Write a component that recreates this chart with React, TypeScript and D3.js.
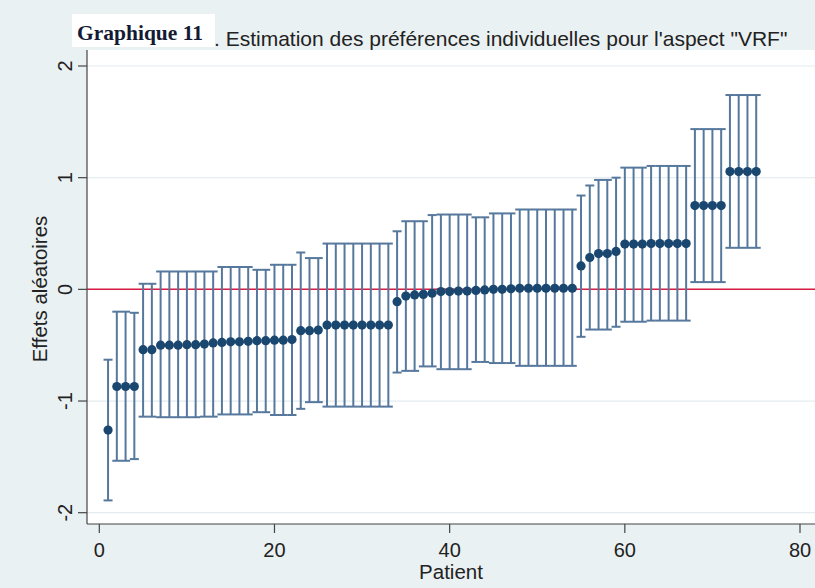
import React from "react";
import * as d3 from "d3";

const patients = d3.range(1, 76);
const estimates = [
  -1.26, -0.87, -0.87, -0.87, -0.54, -0.54, -0.5, -0.5, -0.5, -0.495,
  -0.495, -0.49, -0.48, -0.475, -0.47, -0.47, -0.465, -0.46, -0.46, -0.455,
  -0.455, -0.45, -0.37, -0.37, -0.365, -0.32, -0.32, -0.32, -0.32, -0.32,
  -0.32, -0.32, -0.32, -0.11, -0.06, -0.05, -0.045, -0.035, -0.02, -0.02,
  -0.015, -0.015, -0.01, -0.005, 0.0, 0.0, 0.005, 0.01, 0.01, 0.01,
  0.01, 0.01, 0.01, 0.01, 0.21, 0.285, 0.32, 0.32, 0.34, 0.405,
  0.405, 0.405, 0.41, 0.41, 0.41, 0.41, 0.41, 0.75, 0.75, 0.75,
  0.75, 1.055, 1.055, 1.055, 1.055,
];
const lower = [
  -1.89, -1.535, -1.535, -1.52, -1.14, -1.14, -1.145, -1.145, -1.145, -1.145,
  -1.145, -1.14, -1.14, -1.12, -1.12, -1.12, -1.12, -1.1, -1.1, -1.125,
  -1.125, -1.125, -1.07, -1.01, -1.01, -1.05, -1.05, -1.05, -1.05, -1.05,
  -1.05, -1.05, -1.05, -0.745, -0.73, -0.73, -0.69, -0.69, -0.715, -0.715,
  -0.715, -0.715, -0.65, -0.65, -0.66, -0.66, -0.66, -0.685, -0.685, -0.685,
  -0.685, -0.685, -0.685, -0.685, -0.425, -0.36, -0.36, -0.36, -0.335, -0.29,
  -0.29, -0.29, -0.28, -0.28, -0.28, -0.28, -0.28, 0.065, 0.065, 0.065,
  0.065, 0.372, 0.372, 0.372, 0.372,
];
const upper = [
  -0.63, -0.2, -0.2, -0.21, 0.05, 0.05, 0.16, 0.16, 0.16, 0.16,
  0.16, 0.16, 0.16, 0.2, 0.2, 0.2, 0.2, 0.175, 0.175, 0.22,
  0.22, 0.22, 0.33, 0.28, 0.28, 0.41, 0.41, 0.41, 0.41, 0.41,
  0.41, 0.41, 0.41, 0.52, 0.61, 0.61, 0.61, 0.665, 0.67, 0.67,
  0.67, 0.67, 0.645, 0.645, 0.68, 0.68, 0.68, 0.715, 0.715, 0.715,
  0.715, 0.715, 0.715, 0.715, 0.84, 0.93, 0.98, 0.98, 1.0, 1.09,
  1.09, 1.09, 1.105, 1.105, 1.105, 1.105, 1.105, 1.435, 1.435, 1.435,
  1.435, 1.74, 1.74, 1.74, 1.74,
];
const xTicks = [0, 20, 40, 60, 80];
const yTicks = [-2, -1, 0, 1, 2];
const titleLead = "Graphique 11";
const titleRest = ". Estimation des préférences individuelles pour l'aspect \"VRF\"";
const yLabel = "Effets aléatoires";
const xLabel = "Patient";

const W = 815;
const H = 588;
const plot = { left: 87, right: 815, top: 50, bottom: 524 };

export default function App() {
  const x = d3.scaleLinear().domain([0, 80]).range([99.3, 800]);
  const y = d3.scaleLinear().domain([-2, 2]).range([512.7, 66]);
  const cap = 4.5;
  const sans = "'Liberation Sans', Arial, sans-serif";
  return (
    <svg
      width={W}
      height={H}
      style={{ position: "absolute", left: 0, top: 0, display: "block" }}
    >
      <rect x={0} y={0} width={W} height={H} fill="#eaf1f3" />
      <rect
        x={plot.left}
        y={plot.top}
        width={plot.right - plot.left}
        height={plot.bottom - plot.top}
        fill="#ffffff"
      />
      {yTicks.map((t) => (
        <line
          key={"g" + t}
          x1={plot.left}
          x2={plot.right}
          y1={y(t)}
          y2={y(t)}
          stroke="#e3ecef"
          strokeWidth={1.2}
        />
      ))}
      <line
        x1={plot.left}
        x2={plot.right}
        y1={y(0)}
        y2={y(0)}
        stroke="#d81c44"
        strokeWidth={1.5}
      />
      {patients.map((p, i) => (
        <g key={"e" + p} stroke="#56789d" strokeWidth={2} fill="none">
          <line x1={x(p)} x2={x(p)} y1={y(lower[i])} y2={y(upper[i])} />
          <line x1={x(p) - cap} x2={x(p) + cap} y1={y(lower[i])} y2={y(lower[i])} />
          <line x1={x(p) - cap} x2={x(p) + cap} y1={y(upper[i])} y2={y(upper[i])} />
        </g>
      ))}
      {patients.map((p, i) => (
        <circle key={"c" + p} cx={x(p)} cy={y(estimates[i])} r={4.6} fill="#1a476f" />
      ))}
      <line x1={plot.left} x2={plot.left} y1={plot.top} y2={plot.bottom} stroke="#444" strokeWidth={1.2} />
      <line x1={plot.left} x2={plot.right} y1={plot.bottom} y2={plot.bottom} stroke="#444" strokeWidth={1.2} />
      {yTicks.map((t) => (
        <g key={"yt" + t}>
          <line x1={plot.left - 9} x2={plot.left} y1={y(t)} y2={y(t)} stroke="#444" strokeWidth={1.2} />
          <text
            transform={`translate(72,${y(t)}) rotate(-90)`}
            textAnchor="middle"
            fontFamily={sans}
            fontSize={20}
            fill="#222"
          >
            {t}
          </text>
        </g>
      ))}
      {xTicks.map((t) => (
        <g key={"xt" + t}>
          <line x1={x(t)} x2={x(t)} y1={plot.bottom} y2={plot.bottom + 9} stroke="#444" strokeWidth={1.2} />
          <text x={x(t)} y={557} textAnchor="middle" fontFamily={sans} fontSize={20} fill="#222">
            {t}
          </text>
        </g>
      ))}
      <text
        transform={`translate(46.5,${(plot.top + plot.bottom) / 2 + 2}) rotate(-90)`}
        textAnchor="middle"
        fontFamily={sans}
        fontSize={20.5}
        fill="#222"
      >
        {yLabel}
      </text>
      <text x={451} y={579} textAnchor="middle" fontFamily={sans} fontSize={20.5} fill="#222">
        {xLabel}
      </text>
      <rect x={72} y={14} width={143} height={33} fill="#ffffff" />
      <text x={77} y={40} fontFamily="'Liberation Serif', 'Times New Roman', serif" fontWeight="bold" fontSize={21.5} fill="#141a33">
        {titleLead}
      </text>
      <text x={214} y={45.5} fontFamily={sans} fontSize={21} fill="#222">
        {titleRest}
      </text>
    </svg>
  );
}
